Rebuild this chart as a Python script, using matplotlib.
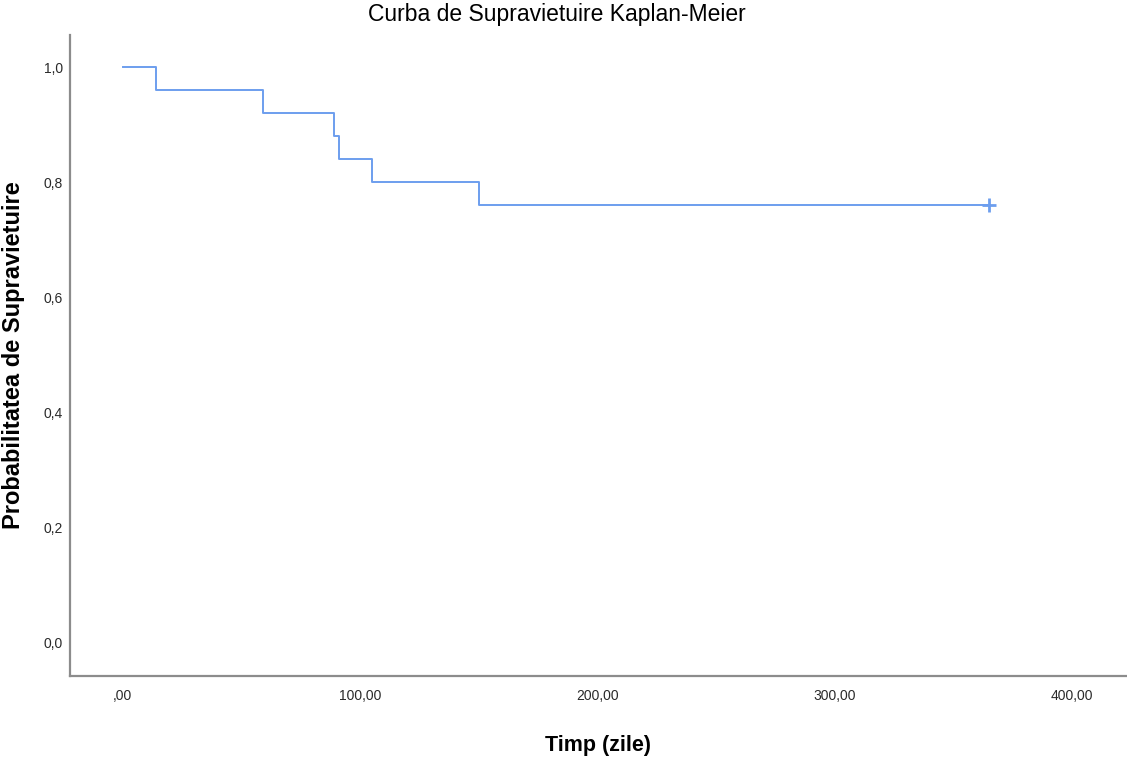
import numpy as np
import matplotlib.pyplot as plt

# Kaplan-Meier step values
timp = [0, 14, 59, 89, 91, 105, 150, 365]
supravietuire = [1.00, 0.96, 0.92, 0.88, 0.84, 0.80, 0.76, 0.76]
cenzurat_t = [365]
cenzurat_s = [0.76]

xticks = [0, 100, 200, 300, 400]
xtick_labels = [",00", "100,00", "200,00", "300,00", "400,00"]
yticks = [0.0, 0.2, 0.4, 0.6, 0.8, 1.0]
ytick_labels = ["0,0", "0,2", "0,4", "0,6", "0,8", "1,0"]

plt.rcParams['font.family'] = ['Liberation Sans', 'DejaVu Sans']

fig = plt.figure(figsize=(11.27, 7.57), dpi=100)
ax = fig.add_axes([70 / 1127, 1 - 676 / 757, 1056 / 1127, 641 / 757])

culoare = "#6d9eee"
ax.step(timp, supravietuire, where="post", color=culoare, lw=1.4)
ax.plot(cenzurat_t, cenzurat_s, marker="+", ms=10, mew=2, color=culoare, ls="none")

ax.set_xlim(-22.3, 422.7)
ax.set_ylim(-0.059, 1.056)
ax.set_xticks(xticks)
ax.set_xticklabels(xtick_labels)
ax.set_yticks(yticks)
ax.set_yticklabels(ytick_labels)
ax.tick_params(length=0, labelsize=10, colors="#2a2a2a")
ax.tick_params(axis="x", pad=9)
ax.tick_params(axis="y", pad=5)

for s in ["top", "right"]:
    ax.spines[s].set_visible(False)
for s in ["left", "bottom"]:
    ax.spines[s].set_color("#8c8c8c")
    ax.spines[s].set_linewidth(1.6)

fig.text(557 / 1127, 1 - 15 / 757, "Curba de Supravietuire Kaplan-Meier",
         fontsize=16.5, ha="center", va="center")
ax.set_xlabel("Timp (zile)", fontsize=15.5, fontweight="bold")
ax.set_ylabel("Probabilitatea de Supravietuire", fontsize=17, fontweight="bold")
ax.xaxis.set_label_coords(0.5, -(745 - 676) / 641)
ax.yaxis.set_label_coords(-(70 - 14) / 1056, 0.5)
ax.xaxis.label.set_va("center")
ax.yaxis.label.set_va("center")

fig.savefig("out.png", dpi=100)
